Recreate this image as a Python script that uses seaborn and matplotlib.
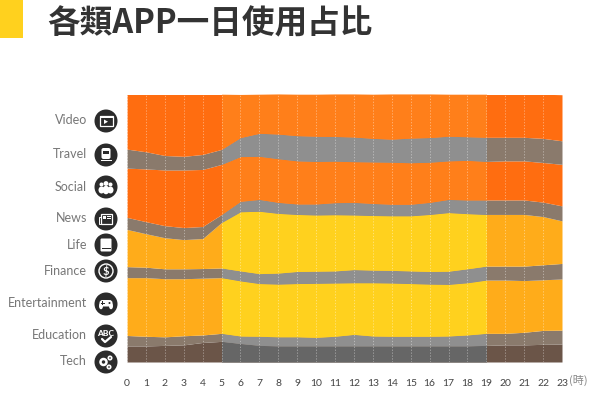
import matplotlib
matplotlib.use("Agg")
import matplotlib.pyplot as plt
from matplotlib.patches import Circle, Rectangle, FancyBboxPatch, Polygon, Ellipse
import seaborn as sns
import pandas as pd

hours = list(range(24))
apps = ["Video", "Travel", "Social", "News", "Life", "Finance", "Entertainment", "Education", "Tech"]

# share of use per hour (%)
video = [20.6, 21.5, 22.8, 23.2, 22.5, 20.6, 16.1, 14.6, 15.0, 15.5, 15.7, 15.9, 16.1, 16.5, 16.9, 16.5, 16.3, 15.7, 15.9, 16.1, 16.1, 16.1, 16.5, 17.2]
travel = [7.1, 6.4, 5.4, 5.1, 5.6, 5.6, 7.1, 8.6, 9.2, 9.4, 9.4, 9.2, 9.2, 8.8, 8.6, 9.2, 9.2, 9.2, 8.8, 9.0, 8.8, 8.8, 9.0, 8.8]
social = [18.4, 19.7, 20.8, 21.5, 21.3, 18.7, 16.7, 16.1, 16.3, 16.1, 15.9, 15.5, 15.2, 15.5, 15.7, 15.5, 15.0, 14.4, 14.8, 14.4, 14.6, 14.6, 14.8, 15.5]
news = [4.5, 4.5, 4.5, 4.5, 4.5, 3.0, 3.9, 4.4, 4.1, 3.9, 4.1, 4.5, 4.7, 4.5, 4.3, 4.3, 4.5, 4.9, 5.1, 5.4, 5.4, 5.4, 5.4, 5.6]
life = [13.9, 12.5, 11.6, 10.9, 11.2, 17.0, 22.1, 23.3, 22.3, 21.3, 21.0, 21.0, 20.4, 20.4, 20.4, 20.6, 21.3, 21.9, 20.6, 19.3, 19.3, 19.3, 18.0, 15.9]
finance = [4.1, 3.9, 3.7, 3.7, 3.6, 3.6, 3.7, 3.7, 4.1, 4.5, 4.5, 4.5, 4.9, 4.7, 4.7, 4.7, 4.7, 4.9, 5.2, 5.2, 5.2, 5.4, 5.6, 5.8]
entertainment = [21.6, 21.9, 21.7, 21.3, 21.2, 20.8, 20.6, 19.7, 19.7, 19.9, 20.2, 19.9, 19.3, 19.9, 19.9, 19.7, 19.5, 19.3, 19.5, 19.9, 19.9, 19.3, 18.9, 19.1]
education = [3.9, 3.6, 3.2, 3.4, 2.8, 3.0, 2.8, 3.4, 3.4, 3.4, 3.2, 3.6, 4.3, 3.7, 3.6, 3.6, 3.6, 3.7, 4.1, 4.5, 4.3, 4.7, 5.2, 5.2]
tech = [6.0, 6.0, 6.2, 6.4, 7.3, 7.7, 6.9, 6.2, 6.0, 6.0, 6.0, 6.0, 6.0, 6.0, 6.0, 6.0, 6.0, 6.0, 6.0, 6.2, 6.4, 6.4, 6.6, 6.7]
shares = [video, travel, social, news, life, finance, entertainment, education, tech]

day_start = 5
day_end = 19

day_colors = ["#ff7f1a", "#8f8f8f", "#ff7f1a", "#8f8f8f", "#ffd11e", "#8f8f8f", "#ffd11e", "#8f8f8f", "#666666"]
night_colors = ["#ff6d10", "#8a7a6c", "#ff6d10", "#8a7a6c", "#ffac1a", "#8a7a6c", "#ffac1a", "#8a7a6c", "#6b5548"]

label_y = [120, 154, 187, 218, 245, 271, 303, 335, 361]
icon_y = [121, 155, 187, 219, 245, 271, 304, 336, 362]

sns.set_theme(style="white")
plt.rcParams["font.family"] = ["Lato", "Noto Sans CJK TC", "DejaVu Sans"]

df = pd.DataFrame({"hour": hours * len(apps),
                   "app": [a for a in apps for _ in hours],
                   "share": [v for s in shares for v in s]})

fig = plt.figure(figsize=(5.9, 3.95), dpi=100)
ax = fig.add_axes([127 / 590, 33 / 395, 435 / 590, 267 / 395])


def draw_areas(colors):
    before = len(ax.collections)
    sns.histplot(data=df, x="hour", hue="app", weights="share", hue_order=apps, discrete=True,
                 multiple="stack", element="poly", palette=dict(zip(apps, colors)), alpha=1,
                 linewidth=0, legend=False, ax=ax)
    return ax.collections[before:]


draw_areas(night_colors)
for area in draw_areas(day_colors):
    area.set_clip_path(Rectangle((day_start, 0), day_end - day_start, 100, transform=ax.transData))

ax.set_xlim(0, 23)
ax.set_ylim(0, 99.7)
ax.set_yticks([])
ax.set_xticks(hours)
ax.set_xticklabels(hours, fontsize=7.5, color="#444444")
ax.tick_params(axis="x", length=0, pad=12)
ax.set_xlabel("")
ax.set_ylabel("")
ax.set_axisbelow(False)
ax.grid(axis="x", color="white", linestyle=(0, (1.5, 2)), linewidth=0.6, alpha=0.45)
ax.grid(axis="y", visible=False)
sns.despine(ax=ax, left=True, bottom=True)

# overlay in pixel coordinates for the title block, labels and icons
ov = fig.add_axes([0, 0, 1, 1], facecolor="none")
ov.set_xlim(0, 590)
ov.set_ylim(395, 0)
ov.axis("off")

ov.add_patch(Rectangle((0, 0), 23, 38, color="#ffd11e", linewidth=0))
ov.text(47, 24, "各類APP一日使用占比", fontsize=23.5, fontweight="bold", color="#333333",
        family=["Noto Sans CJK TC", "DejaVu Sans"], va="center", ha="left")
ov.text(569, 380, "(時)", fontsize=8, color="#888888", family=["Noto Sans CJK TC", "DejaVu Sans"],
        va="center", ha="left")

for name, y in zip(apps, label_y):
    ov.text(87, y, name, fontsize=9, color="#777777", va="center", ha="right")


def white(patch):
    patch.set_facecolor("white")
    patch.set_edgecolor("none")
    ov.add_patch(patch)


def outline(patch, lw=0.9):
    patch.set_facecolor("none")
    patch.set_edgecolor("white")
    patch.set_linewidth(lw)
    ov.add_patch(patch)


def icon_video(x, y):
    outline(Rectangle((x - 6.5, y - 5), 13, 10))
    white(Rectangle((x - 6.5, y - 5), 13, 2))
    white(Polygon([(x - 2, y - 1.5), (x - 2, y + 3), (x + 2, y + 0.7)]))


def icon_travel(x, y):
    white(FancyBboxPatch((x - 4.5, y - 7), 9, 11, boxstyle="round,pad=0,rounding_size=2"))
    ov.add_patch(Rectangle((x - 3, y - 4), 6, 2.5, color="#2b2b2b", linewidth=0))
    white(Rectangle((x - 5.5, y + 5), 11, 1.2))


def icon_social(x, y):
    for dx, dy, r in [(-4.5, -2.5, 2), (4.5, -2.5, 2), (0, -3.5, 2.4)]:
        white(Circle((x + dx, y + dy), r))
    for dx, dy, w, h in [(-4.5, 3, 6, 7), (4.5, 3, 6, 7), (0, 3, 7, 8.5)]:
        white(Ellipse((x + dx, y + dy), w, h))


def icon_news(x, y):
    outline(Rectangle((x - 5, y - 5), 11, 10))
    outline(Rectangle((x - 7, y - 2), 2, 7), 0.7)
    white(Rectangle((x - 3.5, y - 3.5), 3.5, 3))
    for dy in (1, 3):
        white(Rectangle((x - 3.5, y + dy - 0.4), 8, 0.8))
    white(Rectangle((x + 1, y - 3), 3.5, 0.8))
    white(Rectangle((x + 1, y - 1), 3.5, 0.8))


def icon_life(x, y):
    white(FancyBboxPatch((x - 5.5, y - 6.5), 11, 13, boxstyle="round,pad=0,rounding_size=1.2"))
    ov.add_patch(Rectangle((x - 4.5, y + 3), 9, 1, color="#2b2b2b", linewidth=0))


def icon_finance(x, y):
    outline(Circle((x, y), 7), 1)
    ov.text(x, y, "$", color="white", fontsize=8, fontweight="bold", va="center", ha="center")


def icon_game(x, y):
    white(FancyBboxPatch((x - 6.5, y - 4), 13, 6.5, boxstyle="round,pad=0,rounding_size=3"))
    white(Ellipse((x - 5, y + 2), 4, 6.5))
    white(Ellipse((x + 5, y + 2), 4, 6.5))
    ov.add_patch(Rectangle((x - 5, y - 1.5), 3.5, 1, color="#2b2b2b", linewidth=0))
    ov.add_patch(Rectangle((x - 3.75, y - 2.7), 1, 3.5, color="#2b2b2b", linewidth=0))
    ov.add_patch(Circle((x + 3.5, y - 1), 1, color="#2b2b2b", linewidth=0))


def icon_abc(x, y):
    ov.text(x, y - 3, "ABC", color="white", fontsize=6, fontweight="black", va="center", ha="center")
    ov.plot([x - 4, x - 1, x + 5], [y + 3, y + 6, y + 1], color="white", linewidth=1.6)


def icon_gears(x, y):
    outline(Circle((x - 2.5, y + 0), 3), 1.8)
    outline(Circle((x + 4, y - 4), 1.7), 1.2)
    outline(Circle((x + 3, y + 5), 1.7), 1.2)


icons = [icon_video, icon_travel, icon_social, icon_news, icon_life, icon_finance, icon_game, icon_abc, icon_gears]
for draw_icon, y in zip(icons, icon_y):
    ov.add_patch(Circle((106, y), 11.5, color="#2b2b2b", linewidth=0))
    draw_icon(106, y)

plt.savefig("out.png", dpi=100)
